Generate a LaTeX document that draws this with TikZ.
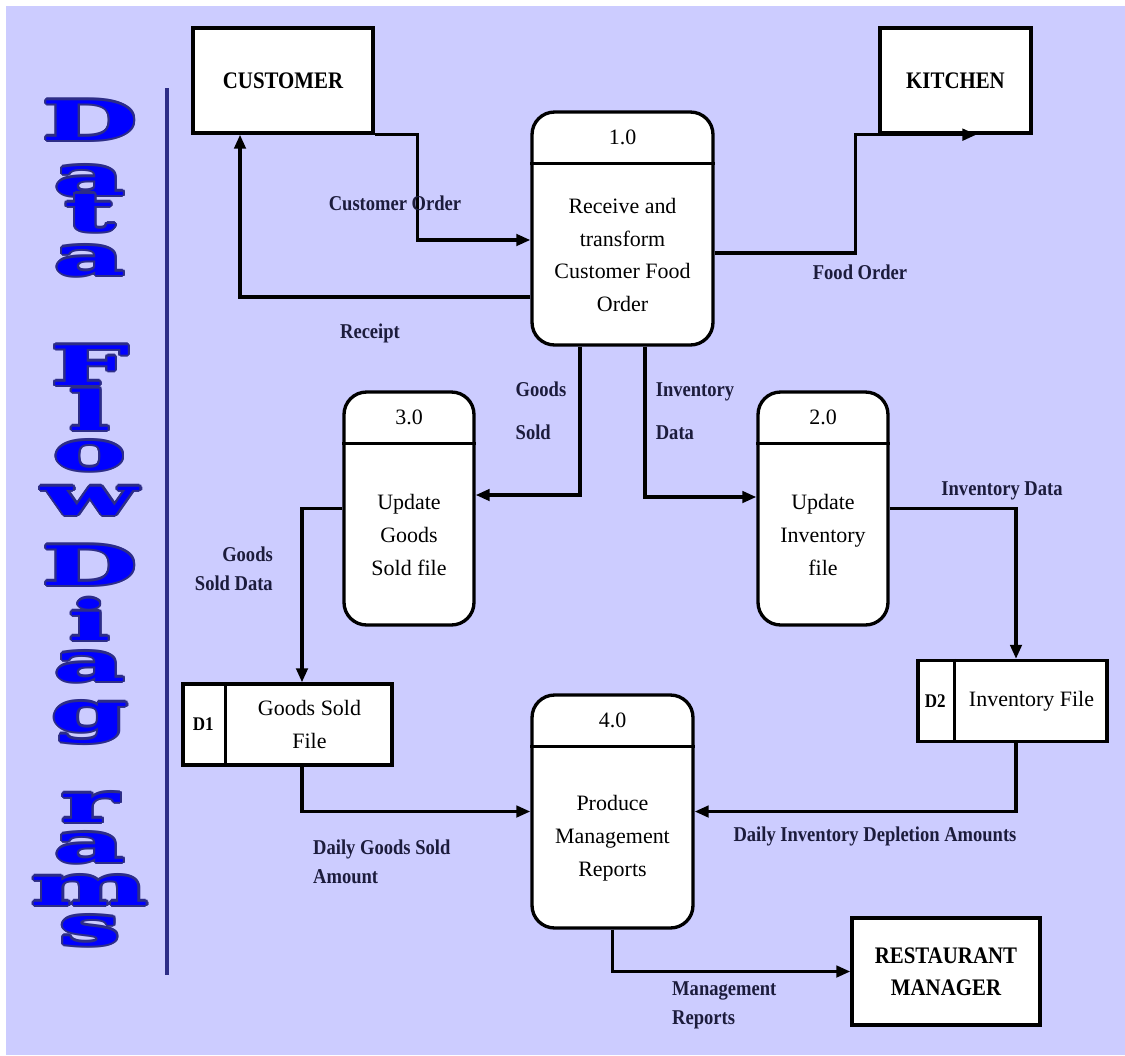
\documentclass[tikz,border=0pt]{standalone}
\usepackage{fontspec}
\setmainfont{Liberation Serif}
\newfontfamily\lblfont[FakeStretch=0.88]{Liberation Serif}
\newfontfamily\titlefont[FakeStretch=2.05]{DejaVu Serif}
\usepackage[copies]{contour}
\contourlength{1.2pt}
\usetikzlibrary{arrows.meta}

\definecolor{bglav}{RGB}{204,204,255}
\definecolor{navy}{RGB}{45,45,135}
\definecolor{lbl}{RGB}{28,28,60}

\tikzset{
	entity/.style={draw, line width=1.9pt, fill=white, align=center,
		font=\lblfont\bfseries\fontsize{13.5}{18}\selectfont},
	proc/.style={draw, line width=1.9pt, fill=white, rounded corners=0.45cm,
		minimum height=4.66cm},
	store/.style={draw, line width=1.9pt, fill=white, minimum height=1.62cm},
	ptext/.style={align=center, font=\fontsize{12.5}{18.7}\selectfont},
	flowlbl/.style={text=lbl, font=\lblfont\bfseries\fontsize{12}{16.5}\selectfont},
	flow/.style={line width=1.9pt, -{Triangle[length=8pt,width=6.5pt]}},
	letter/.style={anchor=base, inner sep=0pt, text=blue,
		font=\titlefont\bfseries\fontsize{31}{31}\selectfont}
}

\begin{document}
\begin{tikzpicture}[x=0.02cm, y=-0.02cm]
	\useasboundingbox (0,0) rectangle (1125,1055);
	\fill[white] (0,0) rectangle (1125,1055);
	\fill[bglav] (6,6) rectangle (1125,1055);

	% side title
	\foreach \ch/\y in {D/140, a/195, t/231, a/275, F/385, l/430, o/470, w/515,
		D/585, i/640, a/681, g/731, r/822, a/862, m/905, s/945}{
		\node[letter] (ttl\y) at (90, \y) {\contour{navy}{\ch}};
	}
	\draw[navy, line width=1.8pt] (167, 88) -- (167, 975);

	% external entities
	\node[entity, minimum width=3.6cm, minimum height=2.1cm] (cust) at (283, 80.5) {CUSTOMER};
	\node[entity, minimum width=3.02cm, minimum height=2.1cm] (kitch) at (955.5, 80.5) {KITCHEN};
	\node[entity, minimum width=3.76cm, minimum height=2.14cm] (mgr) at (946, 971.5) {RESTAURANT\\MANAGER};

	% processes
	\node[proc, minimum width=3.62cm] (p1) at (622.5, 228.5) {};
	\node[proc, minimum width=2.6cm] (p2) at (823, 508.5) {};
	\node[proc, minimum width=2.6cm] (p3) at (409, 508.5) {};
	\node[proc, minimum width=3.22cm] (p4) at (612.5, 811.5) {};
	\foreach \p/\n in {p1/1.0, p2/2.0, p3/3.0, p4/4.0}{
		\draw[line width=1.9pt] ([yshift=-1.06cm]\p.north west) -- ([yshift=-1.06cm]\p.north east);
		\node[ptext] (num\p) at ([yshift=-0.53cm]\p.north) {\n};
	}
	\node[ptext] (txt1) at ([yshift=-0.53cm]p1.center) {Receive and\\transform\\Customer Food\\Order};
	\node[ptext] (txt2) at ([yshift=-0.53cm]p2.center) {Update\\Inventory\\file};
	\node[ptext] (txt3) at ([yshift=-0.53cm]p3.center) {Update\\Goods\\Sold file};
	\node[ptext] (txt4) at ([yshift=-0.53cm]p4.center) {Produce\\Management\\Reports};

	% data stores
	\node[store, minimum width=4.18cm] (d1) at (287.5, 724.5) {};
	\node[store, minimum width=3.78cm] (d2) at (1012.5, 701) {};
	\draw[line width=1.9pt] ([xshift=0.88cm]d1.north west) -- ([xshift=0.88cm]d1.south west);
	\draw[line width=1.9pt] ([xshift=0.76cm]d2.north west) -- ([xshift=0.76cm]d2.south west);
	\node[font=\lblfont\bfseries\fontsize{11}{13}\selectfont] (d1id) at ([xshift=0.44cm]d1.west) {D1};
	\node[font=\lblfont\bfseries\fontsize{11}{13}\selectfont] (d2id) at ([xshift=0.38cm]d2.west) {D2};
	\node[ptext] (d1txt) at ([xshift=0.44cm]d1.center) {Goods Sold\\File};
	\node[ptext] (d2txt) at ([xshift=0.38cm]d2.center) {Inventory File};

	% flows
	\coordinate (cbend) at ([xshift=0.86cm]cust.south east);
	\coordinate (kbend) at ([xshift=-0.46cm]kitch.south west);
	\draw[flow] (cust.south east) -- (cbend) |- ([yshift=-0.23cm]p1.west);
	\draw[flow] ([yshift=-1.37cm]p1.west) -| ([xshift=-0.86cm]cust.south);
	\draw[flow] ([yshift=-0.49cm]p1.east) -| (kbend) -- ([xshift=0.42cm]kitch.south);
	\draw[flow] ([xshift=-0.85cm]p1.south) |- ([yshift=0.27cm]p3.east);
	\draw[flow] ([xshift=0.45cm]p1.south) |- ([yshift=0.23cm]p2.west);
	\draw[flow] (p2.east) -| ([xshift=0.07cm]d2.north);
	\draw[flow] (p3.west) -| ([xshift=0.29cm]d1.north);
	\draw[flow] ([xshift=0.29cm]d1.south) |- (p4.west);
	\draw[flow] ([xshift=0.07cm]d2.south) |- (p4.east);
	\draw[flow] (p4.south) |- (mgr.west);

	% flow labels
	\node[flowlbl] (lco) at (395, 203) {Customer Order};
	\node[flowlbl] (lrc) at (370, 333) {Receipt};
	\node[flowlbl] (lfo) at (860, 272) {Food Order};
	\node[flowlbl, align=left] (lgs) at (541, 411) {Goods\\[8pt]Sold};
	\node[flowlbl, align=left] (lid) at (695, 411) {Inventory\\[8pt]Data};
	\node[flowlbl] (lid2) at (1002, 491) {Inventory Data};
	\node[flowlbl, align=right, anchor=east] (lgsd) at (279, 569) {Goods\\Sold Data};
	\node[flowlbl, align=left, anchor=west] (ldg) at (307, 862) {Daily Goods Sold\\Amount};
	\node[flowlbl] (ldi) at (875, 836) {Daily Inventory Depletion Amounts};
	\node[flowlbl, align=left, anchor=west] (lmr) at (666, 1005) {Management\\Reports};
\end{tikzpicture}
\end{document}
